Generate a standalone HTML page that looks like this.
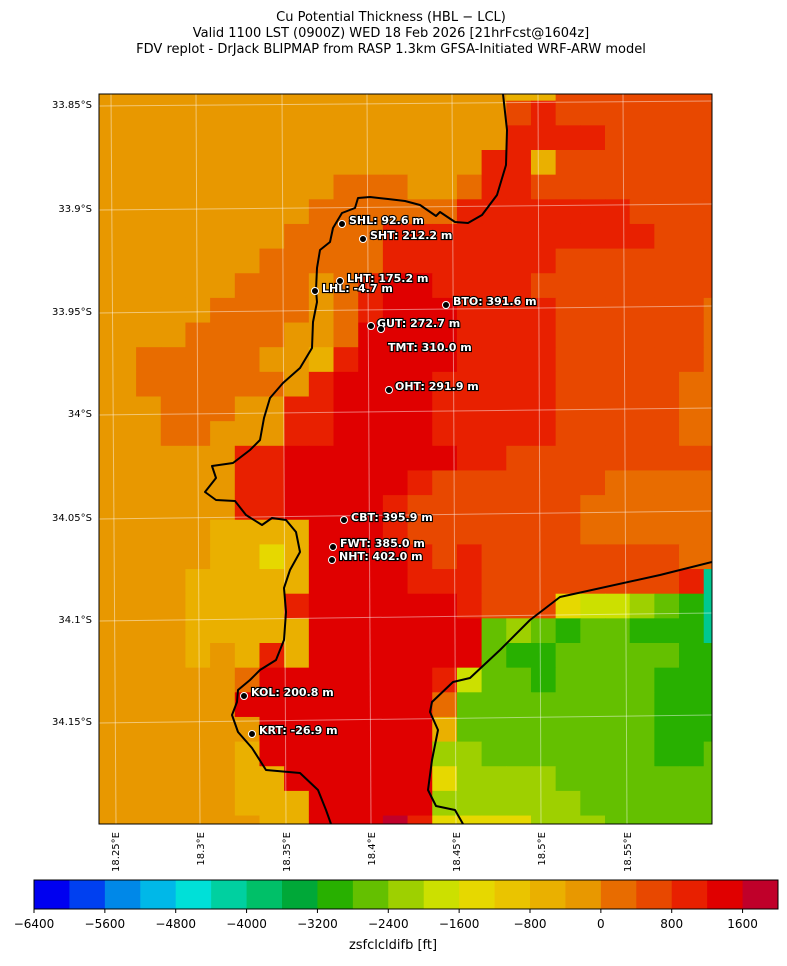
<!DOCTYPE html>
<html><head><meta charset="utf-8"><style>
body{margin:0;background:#fff;width:787px;height:962px;overflow:hidden;font-family:"DejaVu Sans","Liberation Sans",sans-serif;}
</style></head><body>
<svg id="s" width="787" height="962" xmlns="http://www.w3.org/2000/svg" font-family="DejaVu Sans, Liberation Sans, sans-serif">
<text x="391" y="21" font-size="13" text-anchor="middle">Cu Potential Thickness (HBL − LCL)</text>
<text x="391" y="37" font-size="13" text-anchor="middle">Valid 1100 LST (0900Z) WED 18 Feb 2026 [21hrFcst@1604z]</text>
<text x="391" y="53" font-size="13" text-anchor="middle">FDV replot - DrJack BLIPMAP from RASP 1.3km GFSA-Initiated WRF-ARW model</text>
<defs><clipPath id="cp"><rect x="99" y="94" width="613" height="730"/></clipPath></defs>
<g id="grid" clip-path="url(#cp)"></g>
<g clip-path="url(#cp)" stroke="#fff" stroke-opacity="0.45" stroke-width="1" fill="none">
<line x1="99" y1="106" x2="712" y2="101"/><line x1="99" y1="210" x2="712" y2="204"/><line x1="99" y1="313" x2="712" y2="306"/><line x1="99" y1="415" x2="712" y2="408"/><line x1="99" y1="519" x2="712" y2="511"/><line x1="99" y1="621" x2="712" y2="613"/><line x1="99" y1="723" x2="712" y2="715"/>
<line x1="116" y1="824" x2="111" y2="94"/><line x1="200" y1="824" x2="196" y2="94"/><line x1="286" y1="824" x2="282" y2="94"/><line x1="371" y1="824" x2="367" y2="94"/><line x1="456" y1="824" x2="452" y2="94"/><line x1="541" y1="824" x2="538" y2="94"/><line x1="627" y1="824" x2="623" y2="94"/>
</g>
<g clip-path="url(#cp)" stroke="#000" stroke-width="2" fill="none" stroke-linejoin="round">
<polyline points="503,94 507,130 506,165 497,195 482,215 468,223 455,222 440,212 436,216 420,205 405,201 388,199 370,197 358,198 355,208 342,213 333,228 330,242 320,250 317,268 316,290 317,302 313,322 312,348 300,368 283,383 270,398 264,418 260,440 250,450 233,463 212,466 216,478 205,492 216,500 235,501 246,515 262,525 272,518 286,520 296,532 300,552 290,570 284,588 286,612 284,640 276,660 260,670 250,680 238,690 237,702 232,715 238,732 252,748 266,770 300,773 318,790 326,810 331,824"/>
<polyline points="712,562 660,575 560,597 530,620 500,650 470,678 453,682 432,702 430,712 438,730 432,760 428,790 436,806 455,810 463,824"/>
</g>
<rect x="99" y="94" width="613" height="730" fill="none" stroke="#000" stroke-width="1"/>
<g font-size="11" font-weight="bold" fill="#fff" stroke="#000" stroke-width="2.2" paint-order="stroke" id="lab">
<text x="349" y="224">SHL: 92.6 m</text>
<text x="370" y="239">SHT: 212.2 m</text>
<text x="347" y="282">LHT: 175.2 m</text>
<text x="322" y="292">LHL: -4.7 m</text>
<text x="453" y="305">BTO: 391.6 m</text>
<text x="377" y="327">GUT: 272.7 m</text>
<text x="388" y="351">TMT: 310.0 m</text>
<text x="395" y="390">OHT: 291.9 m</text>
<text x="351" y="521">CBT: 395.9 m</text>
<text x="340" y="547">FWT: 385.0 m</text>
<text x="339" y="560">NHT: 402.0 m</text>
<text x="251" y="696">KOL: 200.8 m</text>
<text x="259" y="734">KRT: -26.9 m</text>
</g>
<g fill="#000" stroke="#fff" stroke-width="1">
<circle cx="342" cy="224" r="3.5"/><circle cx="363" cy="239" r="3.5"/><circle cx="340" cy="281" r="3.5"/><circle cx="315" cy="291" r="3.5"/><circle cx="446" cy="305" r="3.5"/><circle cx="371" cy="326" r="3.5"/><circle cx="381" cy="329" r="3.5"/><circle cx="389" cy="390" r="3.5"/><circle cx="344" cy="520" r="3.5"/><circle cx="333" cy="547" r="3.5"/><circle cx="332" cy="560" r="3.5"/><circle cx="244" cy="696" r="3.5"/><circle cx="252" cy="734" r="3.5"/>
</g>
<g font-size="10" text-anchor="end">
<text x="92" y="108">33.85°S</text><text x="92" y="212">33.9°S</text><text x="92" y="315">33.95°S</text><text x="92" y="417">34°S</text><text x="92" y="521">34.05°S</text><text x="92" y="623">34.1°S</text><text x="92" y="725">34.15°S</text>
</g>
<g font-size="10" text-anchor="end">
<text transform="translate(119,832) rotate(-90)">18.25°E</text>
<text transform="translate(204,832) rotate(-90)">18.3°E</text>
<text transform="translate(290,832) rotate(-90)">18.35°E</text>
<text transform="translate(375,832) rotate(-90)">18.4°E</text>
<text transform="translate(460,832) rotate(-90)">18.45°E</text>
<text transform="translate(545,832) rotate(-90)">18.5°E</text>
<text transform="translate(631,832) rotate(-90)">18.55°E</text>
</g>
<g id="cb"></g>
<rect x="34" y="880" width="744" height="29" fill="none" stroke="#000" stroke-width="1"/>
<g id="cbt" font-size="12" text-anchor="middle"></g>
<text x="393" y="949" font-size="13" text-anchor="middle">zsfclcldifb [ft]</text>
</svg>
<script>
var C={a:"#e89800",y:"#eab000",Y:"#e6d800",b:"#e86c00",c:"#e84800",d:"#e82000",e:"#e00000",f:"#c0002a",l:"#9ed000",L:"#cce000",g:"#64c000",G:"#28b000",t:"#00c890"};
var R=[
"aaaaaaaaaaaaaaaayyccccccc",
"aaaaaaaaaaaaaaaacdccccccc",
"aaaaaaaaaaaaaaaaddddccccc",
"aaaaaaaaaaaaaaaddyccccccc",
"aaaaaaaaabbbaabddcccccccc",
"aaaaaaaabbbbbbdddddddcccc",
"aaaaaaabbbbdddddddddddccc",
"aaaaaabbbbbdddddddccccccc",
"aaaaabbbabdeeddddccccccc".padEnd(25,"c"),
"aaaabbbbabdeeeddddccccccb",
"aaabbbbaabeeeeddddccccccb",
"abbbbbaaydeeeeddddccccccb",
"abbbbbbadeeeedddddcccccbb",
"aabbbaaddeeeedddddcccccbb",
"aabbaaaddeeeedddddcccccbb".slice(0,25),
"aaaaaddeeeeeeeddccccccccc",
"aaaaaddeeeeedcccccccbbbbb",
"aaaaaddeeeedcccccccbbbbbb",
"aaaayyyyeeedcccccccbbbbbb",
"aaaayyYyeeeedcdccccccccbb",
"aaayyyyyeeeedddccccccccdt",
"aaayyyydeeeeeedcccYLLlgGt",
"aaayyyyyeeeeeeeglgGggGGGt",
"aaayayd yeeeeeeegGGgggggGG".replace(" ",""),
"aaaaabeeeeeeedLggGggggGGG",
"aaaaaeeeeeeeebggggggggGGG",
"aaaaaaeeeeeeeyggggggggGGG",
"aaaaayeeeeeeellgggggggGGg",
"aaaaayyeeeeeeYllllggggggg",
"aaaaayyyeeeeellllllgggggg",
"aaaaaayyeeefdYYYYlllggggg"
];
var NS="http://www.w3.org/2000/svg",g=document.getElementById("grid");
function rect(p,x,y,w,h,f){var r=document.createElementNS(NS,"rect");r.setAttribute("x",x);r.setAttribute("y",y);r.setAttribute("width",w);r.setAttribute("height",h);r.setAttribute("fill",f);p.appendChild(r);}
for(var ri=0;ri<R.length;ri++){var row=R[ri].slice(0,25);var r=ri-1;var y0=r<0?94:100.7+24.65*r;var y1=100.7+24.65*(r+1);
for(var k=-1;k<25;k++){var ch=row[k<0?0:k]||"c";var x0=k<0?99:111.4+24.68*k;var x1=111.4+24.68*(k+1);rect(g,x0,y0,x1-x0+0.6,y1-y0+0.6,C[ch]||"#e84800");}}
var cb=["#0000f0","#0040f0","#0088e8","#00b8e8","#00e0d8","#00d0a0","#00c068","#00a838","#28b000","#64c000","#9ed000","#cce000","#e6d800","#eac400","#eab000","#e89800","#e86c00","#e84800","#e82000","#e00000","#c0002a"];
var cg=document.getElementById("cb"),w=744/21;
for(var i=0;i<21;i++){rect(cg,34+i*w,880,w+0.5,29,cb[i]);}
var ct=document.getElementById("cbt");
for(var i=0;i<=20;i+=2){var x=34+i*w;var t=document.createElementNS(NS,"text");t.setAttribute("x",x);t.setAttribute("y",928);var v=-6400+i*400;t.textContent=(v<0?"−"+(-v):v);ct.appendChild(t);
var l=document.createElementNS(NS,"line");l.setAttribute("x1",x);l.setAttribute("x2",x);l.setAttribute("y1",909);l.setAttribute("y2",913);l.setAttribute("stroke","#000");ct.appendChild(l);}
</script>
</body></html>
